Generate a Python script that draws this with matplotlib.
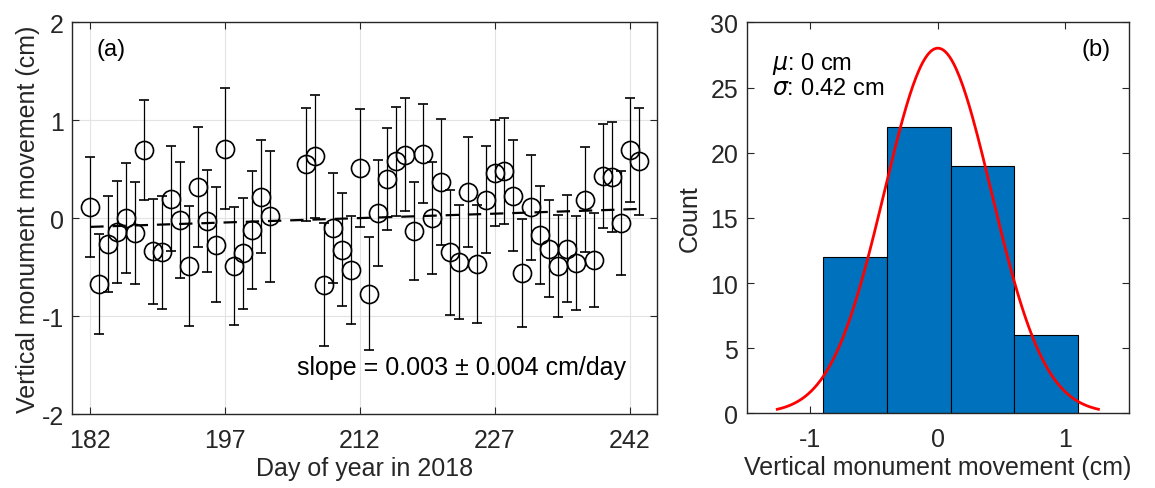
import numpy as np
import matplotlib
matplotlib.use("Agg")
import matplotlib.pyplot as plt

plt.rcParams["font.family"] = ["Liberation Sans", "DejaVu Sans"]
plt.rcParams["mathtext.fontset"] = "dejavusans"
plt.rcParams["axes.unicode_minus"] = False

# (a) daily vertical monument movement (cm) with 1-sigma error bars
days = [182, 183, 184, 185, 186, 187, 188, 189, 190, 191, 192, 193, 194, 195,
        196, 197, 198, 199, 200, 201, 202,
        206, 207, 208, 209, 210, 211, 212, 213, 214, 215, 216, 217, 218, 219,
        220, 221, 222, 223, 224, 225, 226, 227, 228, 229, 230, 231, 232, 233,
        234, 235, 236, 237, 238, 239, 240, 241, 242, 243]
movement = [0.11, -0.67, -0.26, -0.14, 0.00, -0.15, 0.70, -0.34, -0.35, 0.20,
            -0.02, -0.49, 0.32, -0.03, -0.27, 0.71, -0.49, -0.36, -0.12, 0.22,
            0.02,
            0.55, 0.63, -0.68, -0.10, -0.32, -0.53, 0.51, -0.77, 0.05, 0.40,
            0.58, 0.65, -0.13, 0.66, 0.00, 0.37, -0.35, -0.45, 0.27, -0.47,
            0.19, 0.46, 0.48, 0.23, -0.56, 0.11, -0.17, -0.31, -0.49, -0.31,
            -0.46, 0.19, -0.43, 0.43, 0.42, -0.05, 0.70, 0.58]
errors = [0.51, 0.51, 0.49, 0.52, 0.56, 0.52, 0.51, 0.54, 0.58, 0.54, 0.59,
          0.61, 0.61, 0.52, 0.59, 0.62, 0.60, 0.57, 0.60, 0.58, 0.67,
          0.58, 0.63, 0.63, 0.56, 0.58, 0.55, 0.60, 0.58, 0.54, 0.52, 0.56,
          0.58, 0.50, 0.51, 0.57, 0.64, 0.64, 0.58, 0.56, 0.60, 0.55, 0.54,
          0.54, 0.57, 0.55, 0.54, 0.50, 0.50, 0.52, 0.55, 0.48, 0.54, 0.48,
          0.53, 0.56, 0.53, 0.53, 0.55]

# linear fit result shown on the panel
slope = 0.003
intercept_at_182 = -0.089

# (b) histogram settings and normal fit
bin_edges = [-0.9, -0.4, 0.1, 0.6, 1.1]
mu = 0.0
sigma = 0.42

AX_COLOR = "#262626"
FS = 18

fig = plt.figure(figsize=(11.55, 4.89), dpi=100)
ax1 = fig.add_axes([0.0626, 0.1513, 0.506, 0.801])
ax2 = fig.add_axes([0.6465, 0.1527, 0.331, 0.7995])

# ---- panel (a)
d = np.array(days, dtype=float)
ax1.errorbar(d, movement, yerr=errors, fmt="o", color="k", mfc="none",
             mec="k", ms=13, mew=1.2, elinewidth=0.9, capsize=3.5,
             capthick=0.9, zorder=3)
trend_x = np.array([days[0], days[-1]], dtype=float)
trend_y = intercept_at_182 + slope * (trend_x - 182)
ax1.plot(trend_x, trend_y, color="k", lw=1.6, dashes=(6, 4), zorder=2)

ax1.set_xlim(180, 245)
ax1.set_ylim(-2, 2)
ax1.set_xticks([182, 197, 212, 227, 242])
ax1.set_yticks([-2, -1, 0, 1, 2])
ax1.grid(True, color="#e3e3e3", lw=0.8)
ax1.set_axisbelow(True)
ax1.set_xlabel("Day of year in 2018", fontsize=FS, color=AX_COLOR, labelpad=3)
ax1.set_ylabel("Vertical monument movement (cm)", fontsize=FS, color=AX_COLOR,
               labelpad=1)
ax1.text(0.042, 0.932, "(a)", transform=ax1.transAxes, fontsize=FS - 1,
         va="center", ha="left", color="k")
ax1.text(0.385, 0.119, "slope = 0.003 \u00b1 0.004 cm/day",
         transform=ax1.transAxes, fontsize=FS, va="center", ha="left",
         color="k")

# ---- panel (b)
ax2.hist(movement, bins=bin_edges, color="#0072BD", edgecolor="k", lw=0.8,
         zorder=2)
n = len(movement)
bw = bin_edges[1] - bin_edges[0]
xs = np.linspace(mu - 3 * sigma, mu + 3 * sigma, 200)
pdf = n * bw / (sigma * np.sqrt(2 * np.pi)) * np.exp(-0.5 * ((xs - mu) / sigma) ** 2)
ax2.plot(xs, pdf, color="r", lw=2, zorder=3)

ax2.set_xlim(-1.5, 1.5)
ax2.set_ylim(0, 30)
ax2.set_xticks([-1, 0, 1])
ax2.set_yticks([0, 5, 10, 15, 20, 25, 30])
ax2.set_xlabel("Vertical monument movement (cm)", fontsize=FS, color=AX_COLOR,
               labelpad=3)
ax2.set_ylabel("Count", fontsize=FS, color=AX_COLOR, labelpad=6)
ax2.text(0.065, 0.866, "$\\mu$: 0 cm\n$\\sigma$: 0.42 cm", transform=ax2.transAxes,
         fontsize=FS - 1, va="center", ha="left", color="k", linespacing=1.05)
ax2.text(0.876, 0.932, "(b)", transform=ax2.transAxes, fontsize=FS - 1,
         va="center", ha="left", color="k")

for ax in (ax1, ax2):
    for sp in ax.spines.values():
        sp.set_color(AX_COLOR)
        sp.set_linewidth(1.0)
    ax.tick_params(direction="in", top=True, right=True, length=5,
                   width=0.8, colors=AX_COLOR, labelsize=FS, pad=10)
    ax.tick_params(axis="y", pad=6)

fig.savefig("out.png", dpi=100)
